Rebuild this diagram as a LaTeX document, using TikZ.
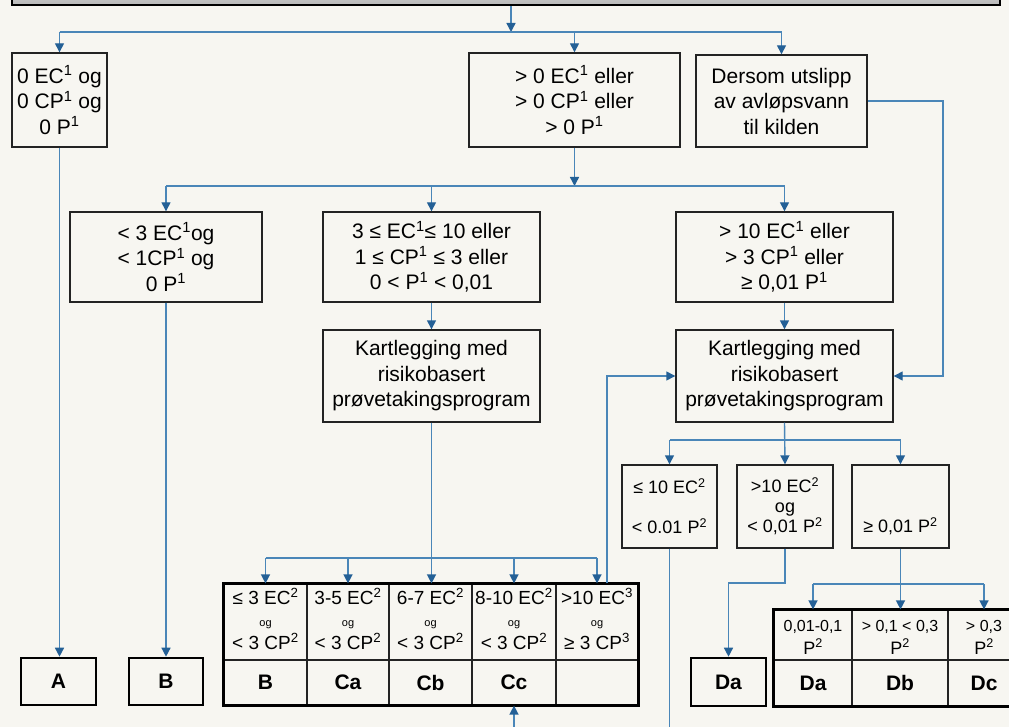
\documentclass[tikz,border=0pt]{standalone}
\usepackage{fontspec}
\setmainfont{Liberation Sans}
\usetikzlibrary{arrows.meta}
\definecolor{bg}{RGB}{247,246,241}
\definecolor{ln}{RGB}{74,134,184}
\definecolor{ah}{RGB}{36,96,150}
\definecolor{bd}{RGB}{35,35,35}
\newcommand\sps[1]{\textsuperscript{#1}}
\begin{document}
\begin{tikzpicture}[x=1pt,y=-1pt,
 box/.style={draw=bd,line width=1.4pt,fill=bg,inner sep=0pt,align=center,font=\fontsize{21}{25.5}\selectfont},
 sbox/.style={draw=bd,line width=1.4pt,fill=bg,inner sep=0pt,align=center,font=\fontsize{18}{20}\selectfont},
 endbox/.style={draw=black,line width=2.6pt,fill=bg,inner sep=0pt,font=\bfseries\fontsize{21}{21}\selectfont},
 cell/.style={draw=bd,line width=1.2pt,fill=bg,inner sep=0pt},
 lab/.style={inner sep=0pt,font=\bfseries\fontsize{21}{21}\selectfont},
 htxt/.style={inner sep=0pt,anchor=base,font=\fontsize{19}{19}\selectfont},
 ogtxt/.style={inner sep=0pt,anchor=base,font=\fontsize{11}{11}\selectfont},
 dtxt/.style={inner sep=0pt,anchor=base,font=\fontsize{16}{16}\selectfont},
 ptxt/.style={inner sep=0pt,anchor=base,font=\fontsize{18}{18}\selectfont},
 conn/.style={draw=ln,line width=1.4pt},
 arr/.style={conn,-{Triangle[length=9pt,width=9pt,color=ah]}},
]
\useasboundingbox (0,0) rectangle (1009,727);
\clip (0,0) rectangle (1009,727);
\fill[bg] (0,0) rectangle (1009,727);

% top bar
\node[draw=black,line width=2.2pt,top color=gray!20,bottom color=gray!55,minimum width=988,minimum height=30,inner sep=0pt] (top) at (506,-10) {};

% coordinates
\coordinate (j0) at (511,32);
\coordinate (j1) at (574.5,186);
\coordinate (rD) at (943,102);
\coordinate (fb) at (607,0);
\coordinate (j2) at (784.5,440);
\coordinate (j3) at (0,583);
\coordinate (j4) at (0,584);
\coordinate (jc) at (0,558);
\coordinate (jb) at (0,745);

% upper boxes
\node[box,minimum width=95,minimum height=94] (b1) at (59.5,100) {0 EC\sps{1} og\\0 CP\sps{1} og\\0 P\sps{1}};
\node[box,minimum width=211,minimum height=94] (bgt) at (574.5,100) {> 0 EC\sps{1} eller\\> 0 CP\sps{1} eller\\> 0 P\sps{1}};
\node[box,minimum width=171,minimum height=92] (bD) at (781.5,101) {Dersom utslipp\\av avløpsvann\\til kilden};

\node[box,minimum width=192,minimum height=90] (b3l) at (166,257) {< 3 EC\sps{1}og\\< 1CP\sps{1} og\\0 P\sps{1}};
\node[box,minimum width=217,minimum height=90] (b3m) at (431.5,257) {3 ≤ EC\sps{1}≤ 10 eller\\1 ≤ CP\sps{1} ≤ 3 eller\\0 < P\sps{1} < 0,01};
\node[box,minimum width=217,minimum height=90] (b3r) at (784.5,257) {> 10 EC\sps{1} eller\\> 3 CP\sps{1} eller\\≥ 0,01 P\sps{1}};

\node[box,minimum width=217,minimum height=92] (k1) at (431.5,376) {Kartlegging med\\risikobasert\\prøvetakingsprogram};
\node[box,minimum width=217,minimum height=92] (k2) at (784.5,376) {Kartlegging med\\risikobasert\\prøvetakingsprogram};

% small boxes
\node[sbox,minimum width=95,minimum height=83] (s1) at (669.5,506.5) {≤ 10 EC\sps{2}\\\mbox{}\\< 0.01 P\sps{2}};
\node[sbox,minimum width=96,minimum height=83] (s2) at (785,506.5) {>10 EC\sps{2}\\og\\< 0,01 P\sps{2}};
\node[sbox,minimum width=97,minimum height=83] (s3) at (900.5,506.5) {\vphantom{EC\sps{2}}\\\mbox{}\\≥ 0,01 P\sps{2}};

% end boxes
\node[endbox,minimum width=75,minimum height=47] (A) at (58.5,681.5) {A};
\node[endbox,minimum width=74,minimum height=47] (B) at (166,681.5) {B};
\node[endbox,minimum width=75,minimum height=48] (Da) at (728.5,682) {Da};

% C table
\node[cell,minimum width=83,minimum height=76] (ch1) at (265.5,622) {};
\node[cell,minimum width=82,minimum height=76] (ch2) at (348,622) {};
\node[cell,minimum width=83,minimum height=76] (ch3) at (430.5,622) {};
\node[cell,minimum width=84,minimum height=76] (ch4) at (514,622) {};
\node[cell,minimum width=82,minimum height=76] (ch5) at (597,622) {};
\node[cell,minimum width=83,minimum height=45] (cl1) at (265.5,682.5) {};
\node[cell,minimum width=82,minimum height=45] (cl2) at (348,682.5) {};
\node[cell,minimum width=83,minimum height=45] (cl3) at (430.5,682.5) {};
\node[cell,minimum width=84,minimum height=45] (cl4) at (514,682.5) {};
\node[cell,minimum width=82,minimum height=45] (cl5) at (597,682.5) {};
\draw[line width=2.6pt] (ch1.north west) rectangle (cl5.south east);

\node[htxt] (ca1) at (265.5,604) {≤ 3 EC\sps{2}};
\node[ogtxt] (cb1) at (265.5,626) {og};
\node[htxt] (cc1) at (265.5,649) {< 3 CP\sps{2}};
\node[htxt] (ca2) at (348,604) {3-5 EC\sps{2}};
\node[ogtxt] (cb2) at (348,626) {og};
\node[htxt] (cc2) at (348,649) {< 3 CP\sps{2}};
\node[htxt] (ca3) at (430.5,604) {6-7 EC\sps{2}};
\node[ogtxt] (cb3) at (430.5,626) {og};
\node[htxt] (cc3) at (430.5,649) {< 3 CP\sps{2}};
\node[htxt] (ca4) at (514,604) {8-10 EC\sps{2}};
\node[ogtxt] (cb4) at (514,626) {og};
\node[htxt] (cc4) at (514,649) {< 3 CP\sps{2}};
\node[htxt] (ca5) at (597,604) {>10 EC\sps{3}};
\node[ogtxt] (cb5) at (597,626) {og};
\node[htxt] (cc5) at (597,649) {≥ 3 CP\sps{3}};

\node[lab] (lB) at (cl1) {B};
\node[lab] (lCa) at (cl2) {Ca};
\node[lab] (lCb) at (cl3) {Cb};
\node[lab] (lCc) at (cl4) {Cc};

% D table
\node[cell,minimum width=78,minimum height=50] (dh1) at (813,635) {};
\node[cell,minimum width=96,minimum height=50] (dh2) at (900,635) {};
\node[cell,minimum width=72,minimum height=50] (dh3) at (984,635) {};
\node[cell,minimum width=78,minimum height=46] (dl1) at (813,683) {};
\node[cell,minimum width=96,minimum height=46] (dl2) at (900,683) {};
\node[cell,minimum width=72,minimum height=46] (dl3) at (984,683) {};
\draw[line width=2.6pt] (dh1.north west) rectangle (dl3.south east);

\node[dtxt] (da1) at (813,631) {0,01-0,1};
\node[ptxt] (db1) at (813,654) {P\sps{2}};
\node[dtxt] (da2) at (900,631) {> 0,1 < 0,3};
\node[ptxt] (db2) at (900,654) {P\sps{2}};
\node[dtxt] (da3) at (984,631) {> 0,3};
\node[ptxt] (db3) at (984,654) {P\sps{2}};
\node[lab] (lDa) at (dl1) {Da};
\node[lab] (lDb) at (dl2) {Db};
\node[lab] (lDc) at (dl3) {Dc};

% connectors: top level
\draw[arr] (top.south -| j0) -- (j0);
\draw[conn] (b1.north |- j0) -- (bD.north |- j0);
\draw[arr] (b1.north |- j0) -- (b1.north);
\draw[arr] (bgt.north |- j0) -- (bgt.north);
\draw[arr] (bD.north |- j0) -- (bD.north);

% second level
\draw[arr] (bgt.south) -- (j1);
\draw[conn] (b3l.north |- j1) -- (b3r.north |- j1);
\draw[arr] (b3l.north |- j1) -- (b3l.north);
\draw[arr] (b3m.north |- j1) -- (b3m.north);
\draw[arr] (b3r.north |- j1) -- (b3r.north);

\draw[arr] (b1.south) -- (b1.south |- A.north);
\draw[arr] (b3l.south) -- (B.north);
\draw[arr] (b3m.south) -- (k1.north);
\draw[arr] (b3r.south) -- (k2.north);
\draw[arr] (bD.east) -- (bD.east -| rD) |- (k2.east);

% C table arrows
\draw[arr] (k1.south) -- (k1.south |- ch3.north);
\draw[conn] (ch1.north |- jc) -- (ch5.north |- jc);
\draw[arr] (ch1.north |- jc) -- (ch1.north);
\draw[arr] (ch2.north |- jc) -- (ch2.north);
\draw[arr] (ch4.north |- jc) -- (ch4.north);
\draw[arr] (ch5.north |- jc) -- (ch5.north);
\draw[arr] (ch5.north -| fb) |- (k2.west);

% below k2
\draw[arr] (k2.south) -- (s2.north);
\draw[conn] (s1.north |- j2) -- (s3.north |- j2);
\draw[arr] (s1.north |- j2) -- (s1.north);
\draw[arr] (s3.north |- j2) -- (s3.north);

\draw[arr] (s2.south) -- (s2.south |- j3) -| (Da.north);
\draw[arr] (s3.south) -- (s3.south |- dh2.north);
\draw[conn] (dh1.north |- j4) -- (dh3.north |- j4);
\draw[arr] (dh1.north |- j4) -- (dh1.north);
\draw[arr] (dh3.north |- j4) -- (dh3.north);

\draw[arr] (s1.south) -- (s1.south |- jb) -| (cl4.south);
\end{tikzpicture}
\end{document}
